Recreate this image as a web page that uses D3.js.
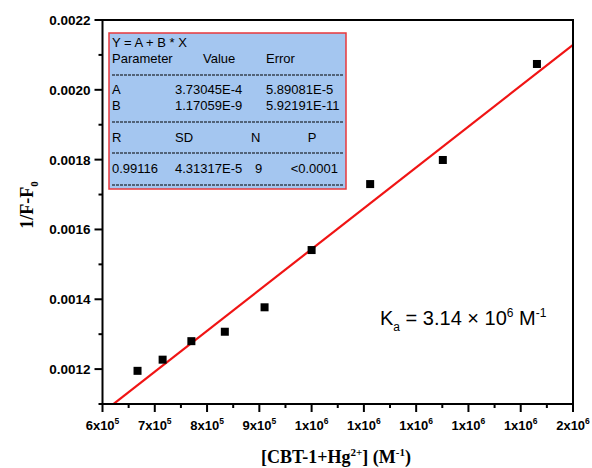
<!DOCTYPE html>
<html>
<head>
<meta charset="utf-8">
<script src="https://cdn.jsdelivr.net/npm/d3@7"></script>
<style>
  body { margin: 0; background: #fff; }
  svg { display: block; }
</style>
</head>
<body>
<div id="chart"></div>
<script>
// data
const concX = [667000, 715000, 770000, 834000, 910000, 1000000, 1112000, 1251000, 1431000];
const invF = [0.001195, 0.001227, 0.00128, 0.001307, 0.001377, 0.001541, 0.00173, 0.001799, 0.002074];

// linear fit from the inset table
const fitA = 3.73045e-4;
const fitB = 1.17059e-9;

const xTicks = [6e5, 7e5, 8e5, 9e5, 1e6, 1.1e6, 1.2e6, 1.3e6, 1.4e6, 1.5e6];
const xTickLabels = [["6", "5"], ["7", "5"], ["8", "5"], ["9", "5"], ["1", "6"], ["1", "6"], ["1", "6"], ["1", "6"], ["1", "6"], ["2", "6"]];
const yTicks = [0.0012, 0.0014, 0.0016, 0.0018, 0.0020, 0.0022];

const tableRows = [
    ["Y = A + B * X"],
    ["Parameter", "Value", "Error"],
    ["A", "3.73045E-4", "5.89081E-5"],
    ["B", "1.17059E-9", "5.92191E-11"],
    ["R", "SD", "N", "P"],
    ["0.99116", "4.31317E-5", "9", "<0.0001"]
];

const width = 592, height = 468;
const margin = { top: 20, right: 19, bottom: 64, left: 102.5 };

const svg = d3.select("#chart").append("svg")
    .attr("width", width)
    .attr("height", height);

const x = d3.scaleLinear().domain([6e5, 1.5e6]).range([margin.left, width - margin.right]);
const y = d3.scaleLinear().domain([0.0011, 0.0022]).range([height - margin.bottom, margin.top]);

// clip for the fit line
svg.append("clipPath").attr("id", "plotclip")
    .append("rect")
    .attr("x", margin.left).attr("y", margin.top)
    .attr("width", x.range()[1] - margin.left)
    .attr("height", y.range()[0] - margin.top);

// fit line
const fitXs = [6e5, 1.5e6];
svg.append("path")
    .attr("clip-path", "url(#plotclip)")
    .attr("d", d3.line().x(d => x(d)).y(d => y(fitA + fitB * d))(fitXs))
    .attr("stroke", "#f01414")
    .attr("stroke-width", 2.2)
    .attr("fill", "none");

// points
const sq = 8;
svg.selectAll(".pt")
    .data(concX)
    .join("rect")
    .attr("class", "pt")
    .attr("x", (d) => x(d) - sq / 2)
    .attr("y", (d, i) => y(invF[i]) - sq / 2)
    .attr("width", sq)
    .attr("height", sq)
    .attr("fill", "#000");

// frame
svg.append("rect")
    .attr("x", margin.left).attr("y", margin.top)
    .attr("width", x.range()[1] - margin.left)
    .attr("height", y.range()[0] - margin.top)
    .attr("fill", "none")
    .attr("stroke", "#000")
    .attr("stroke-width", 2);

// bottom axis
const xAxis = svg.append("g")
    .attr("transform", `translate(0,${y.range()[0]})`);
const xMinor = d3.range(6.5e5, 1.5e6, 1e5);
xAxis.selectAll(".minor").data(xMinor).join("line")
    .attr("x1", d => x(d)).attr("x2", d => x(d))
    .attr("y1", 0).attr("y2", 4)
    .attr("stroke", "#000").attr("stroke-width", 2);
xAxis.selectAll(".major").data(xTicks).join("line")
    .attr("x1", d => x(d)).attr("x2", d => x(d))
    .attr("y1", 0).attr("y2", 8)
    .attr("stroke", "#000").attr("stroke-width", 2);
const xl = xAxis.selectAll(".lab").data(xTicks).join("text")
    .attr("x", d => x(d))
    .attr("y", 26)
    .attr("text-anchor", "middle")
    .attr("font-family", "Liberation Sans, Arial, sans-serif")
    .attr("font-weight", "bold")
    .attr("font-size", 13);
xl.append("tspan").text((d, i) => xTickLabels[i][0] + "x10");
xl.append("tspan").attr("dy", -6).attr("font-size", 8.5).text((d, i) => xTickLabels[i][1]);

// left axis
const yAxis = svg.append("g")
    .attr("transform", `translate(${margin.left},0)`);
const yMinor = d3.range(0.0011, 0.00221, 0.0002);
yAxis.selectAll(".minor").data(yMinor).join("line")
    .attr("y1", d => y(d)).attr("y2", d => y(d))
    .attr("x1", 0).attr("x2", -4)
    .attr("stroke", "#000").attr("stroke-width", 2);
yAxis.selectAll(".major").data(yTicks).join("line")
    .attr("y1", d => y(d)).attr("y2", d => y(d))
    .attr("x1", 0).attr("x2", -8)
    .attr("stroke", "#000").attr("stroke-width", 2);
yAxis.selectAll(".lab").data(yTicks).join("text")
    .attr("x", -12)
    .attr("y", d => y(d) + 5)
    .attr("text-anchor", "end")
    .attr("font-family", "Liberation Sans, Arial, sans-serif")
    .attr("font-weight", "bold")
    .attr("font-size", 13.5)
    .text(d => d3.format(".4f")(d));

// axis titles
const xt = svg.append("text")
    .attr("x", 336).attr("y", 463)
    .attr("text-anchor", "middle")
    .attr("font-family", "Liberation Serif, Times New Roman, serif")
    .attr("font-weight", "bold")
    .attr("font-size", 18);
xt.append("tspan").text("[CBT-1+Hg");
xt.append("tspan").attr("dy", -7).attr("font-size", 11).text("2+");
xt.append("tspan").attr("dy", 7).text("] (M");
xt.append("tspan").attr("dy", -7).attr("font-size", 11).text("-1");
xt.append("tspan").attr("dy", 7).text(")");

const yt = svg.append("text")
    .attr("transform", "translate(33,205) rotate(-90)")
    .attr("text-anchor", "middle")
    .attr("font-family", "Liberation Serif, Times New Roman, serif")
    .attr("font-weight", "bold")
    .attr("font-size", 18);
yt.append("tspan").text("1/F-F");
yt.append("tspan").attr("dy", 5).attr("font-size", 11).text("0");

// inset table
const box = { x: 109, y: 33, w: 237, h: 156 };
const tbl = svg.append("g");
tbl.append("rect")
    .attr("x", box.x).attr("y", box.y)
    .attr("width", box.w).attr("height", box.h)
    .attr("fill", "#a4c6f0")
    .attr("stroke", "#e8383c")
    .attr("stroke-width", 1.5);

const colX = [112, 175, 251, 338];
const rowY = [47, 63, 94, 110, 142, 173];
const font = "Liberation Sans, Arial, sans-serif";
function cell(txt, cx, cy, anchor) {
    tbl.append("text")
        .attr("x", cx).attr("y", cy)
        .attr("text-anchor", anchor || "start")
        .attr("font-family", font)
        .attr("font-size", 13)
        .attr("fill", "#000")
        .text(txt);
}
cell(tableRows[0][0], colX[0], rowY[0]);
cell(tableRows[1][0], colX[0], rowY[1]);
cell(tableRows[1][1], 203, rowY[1]);
cell(tableRows[1][2], 266, rowY[1]);
cell(tableRows[2][0], colX[0], rowY[2]);
cell(tableRows[2][1], colX[1], rowY[2]);
cell(tableRows[2][2], 266, rowY[2]);
cell(tableRows[3][0], colX[0], rowY[3]);
cell(tableRows[3][1], colX[1], rowY[3]);
cell(tableRows[3][2], 266, rowY[3]);
cell(tableRows[4][0], colX[0], rowY[4]);
cell(tableRows[4][1], colX[1], rowY[4]);
cell(tableRows[4][2], colX[2], rowY[4]);
cell(tableRows[4][3], 312, rowY[4], "middle");
cell(tableRows[5][0], colX[0], rowY[5]);
cell(tableRows[5][1], colX[1], rowY[5]);
cell(tableRows[5][2], 255, rowY[5]);
cell(tableRows[5][3], colX[3], rowY[5], "end");

[75, 122, 153, 185].forEach(ly => {
    tbl.append("line")
        .attr("x1", 112).attr("x2", 343)
        .attr("y1", ly).attr("y2", ly)
        .attr("stroke", "#000")
        .attr("stroke-width", 1)
        .attr("stroke-dasharray", "3,1");
});

// binding constant annotation
const ka = svg.append("text")
    .attr("x", 380).attr("y", 325)
    .attr("font-family", font)
    .attr("font-size", 20);
ka.append("tspan").text("K");
ka.append("tspan").attr("dy", 6).attr("font-size", 12).text("a");
ka.append("tspan").attr("dy", -6).text(" = 3.14 \u00d7 10");
ka.append("tspan").attr("dy", -8).attr("font-size", 12).text("6");
ka.append("tspan").attr("dy", 8).text(" M");
ka.append("tspan").attr("dy", -8).attr("font-size", 12).text("-1");
</script>
</body>
</html>
